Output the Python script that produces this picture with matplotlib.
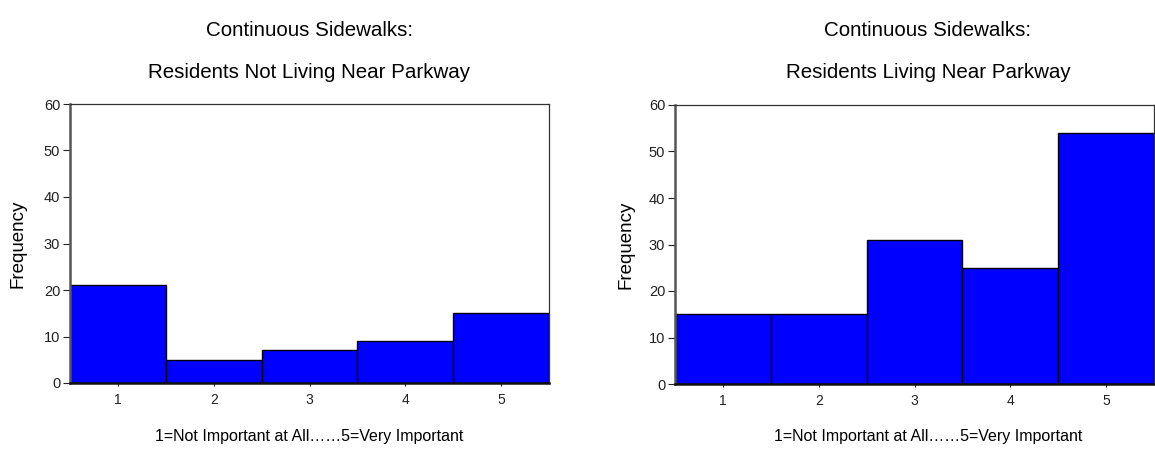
import matplotlib
matplotlib.use("Agg")
import matplotlib.pyplot as plt
import numpy as np

plt.rcParams['font.family'] = ['Liberation Sans', 'DejaVu Sans']

# ratings 1..5
ratings = [1, 2, 3, 4, 5]
not_near = [21, 5, 7, 9, 15]
near = [15, 15, 31, 25, 54]
titles = ["Residents Not Living Near Parkway", "Residents Living Near Parkway"]
xlabel = "1=Not Important at All\u2026\u20265=Very Important"

fig = plt.figure(figsize=(11.55, 4.55), dpi=100)
ax1 = fig.add_axes([70/1155, 1-383/455, 479/1155, 279/455])
ax2 = fig.add_axes([675/1155, 1-384/455, 479/1155, 279/455])

def draw(ax, vals, ylab_x):
    ax.bar(ratings, vals, width=1.0, color='#0000FF', edgecolor='black', linewidth=1.0)
    ax.set_xlim(0.5, 5.5)
    ax.set_ylim(0, 60)
    ax.set_yticks(np.arange(0, 61, 10))
    ax.set_xticks(ratings)
    ax.tick_params(axis='y', labelsize=10.5, length=5, width=0.8, pad=2, colors='#222222')
    ax.tick_params(axis='x', labelsize=10, length=2.5, width=0.8, pad=5, colors='#222222')
    ax.set_ylabel("Frequency", fontsize=13.5)
    ax.yaxis.set_label_coords(ylab_x, 0.5)
    for s in ['top', 'right']:
        ax.spines[s].set_linewidth(0.9)
        ax.spines[s].set_color('#333333')
    ax.spines['left'].set_linewidth(1.8)
    ax.spines['left'].set_color('#555555')
    ax.spines['bottom'].set_linewidth(1.8)
    ax.spines['bottom'].set_color('#111111')

draw(ax1, not_near, (27-70)/479)
draw(ax2, near, (635-675)/479)

for cx, t in [(309, titles[0]), (928, titles[1])]:
    fig.text(cx/1155, 1-30/455, "Continuous Sidewalks:", ha='center', va='center', fontsize=14.8)
    fig.text(cx/1155, 1-73/455, t, ha='center', va='center', fontsize=14.8)
    fig.text(cx/1155, 1-437/455, xlabel, ha='center', va='center', fontsize=11.5)

fig.savefig("out.png", dpi=100)
